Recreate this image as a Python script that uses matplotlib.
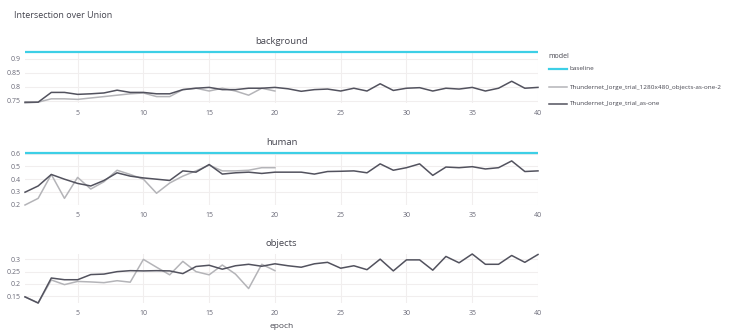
import matplotlib
matplotlib.use("Agg")
import matplotlib.pyplot as plt
from matplotlib.ticker import MultipleLocator, FuncFormatter
import numpy as np

plt.rcParams['font.family'] = ['Open Sans', 'DejaVu Sans']

# ---- data -------------------------------------------------------------
epochs_long = list(range(1, 41))
epochs_short = list(range(1, 21))

model_names = ["baseline",
               "Thundernet_Jorge_trial_1280x480_objects-as-one-2",
               "Thundernet_Jorge_trial_as-one"]

classes = ["background", "human", "objects"]

baseline_iou = {"background": 0.925, "human": 0.605, "objects": None}

trial_1280_bg = [0.742, 0.745, 0.757, 0.757, 0.755, 0.760, 0.765, 0.770, 0.775, 0.778,
                 0.765, 0.765, 0.790, 0.795, 0.785, 0.795, 0.785, 0.770, 0.795, 0.785]
trial_1280_human = [0.198, 0.250, 0.437, 0.250, 0.414, 0.323, 0.380, 0.470, 0.437, 0.400,
                    0.290, 0.370, 0.424, 0.465, 0.510, 0.465, 0.465, 0.470, 0.490, 0.490]
trial_1280_obj = [0.147, 0.122, 0.216, 0.197, 0.210, 0.208, 0.205, 0.213, 0.207, 0.300,
                  0.268, 0.237, 0.292, 0.250, 0.237, 0.277, 0.240, 0.181, 0.280, 0.254]

trial_one_bg = [0.745, 0.745, 0.780, 0.780, 0.773, 0.775, 0.778, 0.788, 0.780, 0.780,
                0.775, 0.775, 0.790, 0.795, 0.798, 0.790, 0.790, 0.795, 0.795, 0.798,
                0.793, 0.784, 0.790, 0.792, 0.785, 0.795, 0.785, 0.811, 0.787, 0.795,
                0.797, 0.785, 0.795, 0.792, 0.798, 0.785, 0.795, 0.820, 0.795, 0.798]
trial_one_human = [0.298, 0.347, 0.437, 0.400, 0.367, 0.347, 0.390, 0.450, 0.424, 0.410,
                   0.400, 0.390, 0.465, 0.455, 0.515, 0.440, 0.450, 0.455, 0.445, 0.455,
                   0.455, 0.455, 0.440, 0.460, 0.462, 0.465, 0.450, 0.520, 0.470, 0.490,
                   0.520, 0.430, 0.495, 0.490, 0.498, 0.480, 0.490, 0.543, 0.460, 0.465]
trial_one_obj = [0.147, 0.122, 0.224, 0.217, 0.217, 0.238, 0.240, 0.250, 0.254, 0.253,
                 0.254, 0.253, 0.242, 0.271, 0.276, 0.260, 0.274, 0.280, 0.272, 0.282,
                 0.274, 0.268, 0.282, 0.288, 0.264, 0.274, 0.258, 0.301, 0.253, 0.298,
                 0.298, 0.256, 0.312, 0.286, 0.322, 0.280, 0.280, 0.316, 0.288, 0.320]

series_1280 = {"background": trial_1280_bg, "human": trial_1280_human, "objects": trial_1280_obj}
series_one = {"background": trial_one_bg, "human": trial_one_human, "objects": trial_one_obj}

y_steps = {"background": 0.05, "human": 0.1, "objects": 0.05}
x_ticks = [5, 10, 15, 20, 25, 30, 35, 40]

# ---- style ------------------------------------------------------------
C_BASE = "#3dcfe6"
C_1280 = "#b4b4b8"
C_ONE = "#52525e"
C_TEXT = "#44444e"
C_TICK = "#6a6a78"
C_GRID = "#f1eeee"

W, H = 744, 336
fig = plt.figure(figsize=(W / 100, H / 100), dpi=100)

# panel boxes in pixels: left, top, right, bottom
x0, x1 = 25, 538
panels = {"background": (52, 103), "human": (153, 205), "objects": (254, 303)}


def px_axes(left, top, right, bottom):
    return fig.add_axes([left / W, 1 - bottom / H, (right - left) / W, (bottom - top) / H])


fmt = FuncFormatter(lambda v, p: f"{v:g}")

for cls in classes:
    top, bottom = panels[cls]
    ax = px_axes(x0, top, x1, bottom)
    ax.set_facecolor("white")
    for s in ax.spines.values():
        s.set_visible(False)
    ax.grid(True, color=C_GRID, lw=0.8)
    ax.set_axisbelow(True)

    b = baseline_iou[cls]
    if b is not None:
        ax.plot(epochs_long, [b] * len(epochs_long), color=C_BASE, lw=1.6,
                solid_capstyle="butt", clip_on=False)
    ax.plot(epochs_short, series_1280[cls], color=C_1280, lw=1.1, clip_on=False)
    ax.plot(epochs_long, series_one[cls], color=C_ONE, lw=1.1, clip_on=False)

    ax.margins(x=0, y=0)
    ax.set_xlim(1, 40)
    ax.xaxis.set_major_locator(plt.FixedLocator(x_ticks))
    ax.yaxis.set_major_locator(MultipleLocator(y_steps[cls]))
    ax.yaxis.set_major_formatter(fmt)
    ax.tick_params(length=0, labelsize=5, colors=C_TICK, pad=3)
    ax.tick_params(axis="x", pad=5)

    ax.text(0.5, 1.0 + 6 / (bottom - top), cls, transform=ax.transAxes,
            ha="center", va="bottom", fontsize=6.8, color=C_TEXT)

    if cls == "objects":
        ax.set_xlabel("epoch", fontsize=6, color=C_TEXT, labelpad=4)

fig.text(14 / W, 1 - 16 / H, "Intersection over Union", fontsize=6.5,
         color=C_TEXT, ha="left", va="center")

# legend
fig.text(548 / W, 1 - 57 / H, "model", fontsize=5, color=C_TEXT, ha="left", va="center")
leg_rows = [(69, C_BASE, 1.6), (87, C_1280, 1.1), (104, C_ONE, 1.1)]
for (yy, col, lw), name in zip(leg_rows, model_names):
    fig.add_artist(plt.Line2D([549 / W, 567 / W], [1 - yy / H, 1 - yy / H],
                              color=col, lw=lw, transform=fig.transFigure))
    fig.text(570 / W, 1 - yy / H, name, fontsize=4.6, color=C_TEXT,
             ha="left", va="center")

fig.savefig("out.png", dpi=100)
